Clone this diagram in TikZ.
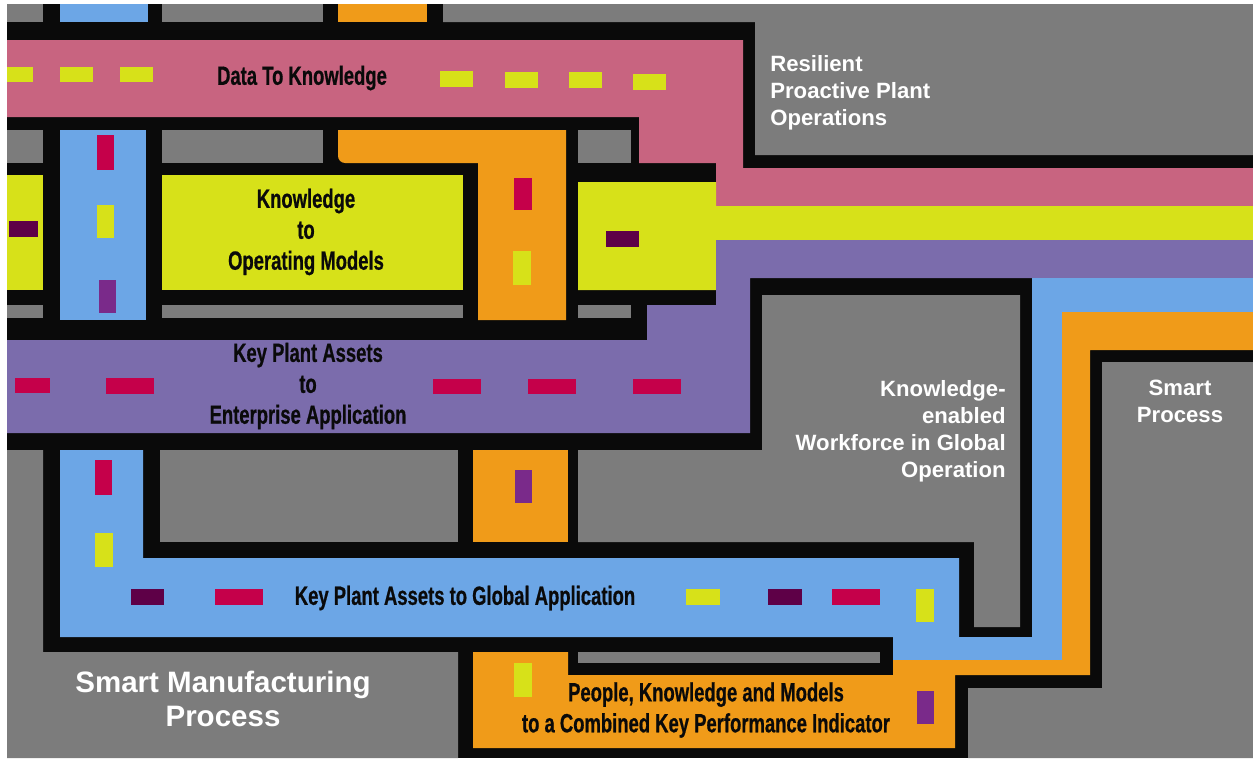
\documentclass[tikz,border=0pt]{standalone}
\usepackage{fontspec}
\setmainfont{Liberation Sans}
\newfontfamily\roadfont[FakeStretch=0.7,FakeBold=0.6]{Liberation Sans}
\usetikzlibrary{positioning}

\definecolor{roadpink}{RGB}{200,100,128}
\definecolor{roadyellow}{RGB}{215,225,25}
\definecolor{roadpurple}{RGB}{123,108,172}
\definecolor{roadblue}{RGB}{108,166,230}
\definecolor{roadorange}{RGB}{240,155,25}
\definecolor{ground}{RGB}{124,124,124}
\definecolor{curb}{RGB}{10,10,10}
\definecolor{markred}{RGB}{197,0,74}
\definecolor{markplum}{RGB}{94,0,71}
\definecolor{markviolet}{RGB}{122,42,138}

\begin{document}
\begin{tikzpicture}[x=0.02cm, y=-0.02cm,
  roadlabel/.style={font=\roadfont\bfseries\fontsize{15}{17.6}\selectfont, text=curb, align=center, inner sep=0pt},
  arealabel/.style={font=\bfseries\fontsize{12.6}{15.3}\selectfont, text=white, inner sep=0pt}]

\useasboundingbox (0,0) rectangle (1253,758);
\fill[white] (0,0) rectangle (1253,758);

% --- Ground: black curbs with grey blocks ---
\fill[curb] (7,4) rectangle (1253,758);
\fill[ground] (7,4) rectangle (43,22);
\fill[ground] (162,4) rectangle (323,22);
\fill[ground] (443,4) -- (1253,4) -- (1253,155) -- (755,155) -- (755,22) -- (443,22) -- cycle;
\fill[ground] (7,130) rectangle (43,163);
\fill[ground] (162,130) rectangle (323,163);
\fill[ground] (578,130) rectangle (631,163);
\fill[ground] (7,305) rectangle (43,318);
\fill[ground] (162,305) rectangle (463,318);
\fill[ground] (578,305) rectangle (631,318);
\fill[ground] (762,295) -- (1020,295) -- (1020,627) -- (974,627) -- (974,542)
  -- (578,542) -- (578,450) -- (762,450) -- cycle;
\fill[ground] (160,450) rectangle (458,542);
\fill[ground] (7,450) -- (43,450) -- (43,652) -- (458,652) -- (458,758) -- (7,758) -- cycle;
\fill[ground] (578,652) rectangle (880,663);
\fill[ground] (1102,362) -- (1253,362) -- (1253,758) -- (968,758) -- (968,688) -- (1102,688) -- cycle;

% --- Roads ---
\fill[roadpink] (7,40) -- (743,40) -- (743,168) -- (1253,168) -- (1253,206) -- (716,206)
  -- (716,163) -- (639,163) -- (639,117) -- (7,117) -- cycle;
\fill[roadyellow] (7,175) rectangle (43,290);
\fill[roadyellow] (162,175) rectangle (463,290);
\fill[roadyellow] (578,182) -- (716,182) -- (716,206) -- (1253,206) -- (1253,240) -- (716,240)
  -- (716,290) -- (578,290) -- cycle;
\fill[roadpurple] (7,340) -- (647,340) -- (647,305) -- (716,305) -- (716,240) -- (1253,240)
  -- (1253,278) -- (750,278) -- (750,433) -- (7,433) -- cycle;
\fill[roadblue] (60,4) rectangle (148,22);
\fill[roadblue] (60,130) rectangle (146,320);
\fill[roadblue] (60,450) -- (143,450) -- (143,558) -- (959,558) -- (959,637) -- (1032,637)
  -- (1032,278) -- (1253,278) -- (1253,312) -- (1062,312) -- (1062,660) -- (893,660)
  -- (893,637) -- (60,637) -- cycle;
\fill[roadorange] (338,4) rectangle (427,22);
\fill[roadorange] (566,130) -- (566,320) -- (478,320) -- (478,163)
  [rounded corners=4] -- (338,163) [sharp corners] -- (338,130) -- cycle;
\fill[roadorange] (473,450) rectangle (568,542);
\fill[roadorange] (473,652) -- (568,652) -- (568,675) -- (893,675) -- (893,660) -- (1062,660)
  -- (1062,312) -- (1253,312) -- (1253,350) -- (1090,350) -- (1090,675) -- (955,675)
  -- (955,748) -- (473,748) -- cycle;

% --- Lane marks ---
\fill[roadyellow] (7,67) rectangle (33,82);
\fill[roadyellow] (60,67) rectangle (93,82);
\fill[roadyellow] (120,67) rectangle (153,82);
\fill[roadyellow] (440,71) rectangle (473,87);
\fill[roadyellow] (505,72) rectangle (538,88);
\fill[roadyellow] (569,72) rectangle (602,88);
\fill[roadyellow] (633,74) rectangle (666,90);
\fill[markred] (97,135) rectangle (114,170);
\fill[roadyellow] (97,205) rectangle (114,238);
\fill[markviolet] (99,280) rectangle (116,313);
\fill[markplum] (9,221) rectangle (38,237);
\fill[markred] (514,178) rectangle (532,210);
\fill[roadyellow] (513,251) rectangle (531,285);
\fill[markplum] (606,231) rectangle (639,247);
\fill[markred] (15,378) rectangle (50,393);
\fill[markred] (106,378) rectangle (154,394);
\fill[markred] (433,379) rectangle (481,394);
\fill[markred] (528,379) rectangle (576,394);
\fill[markred] (633,379) rectangle (681,394);
\fill[markviolet] (515,470) rectangle (532,503);
\fill[markred] (95,460) rectangle (112,495);
\fill[roadyellow] (95,533) rectangle (113,567);
\fill[markplum] (131,589) rectangle (164,605);
\fill[markred] (215,589) rectangle (263,605);
\fill[roadyellow] (686,589) rectangle (720,605);
\fill[markplum] (768,589) rectangle (802,605);
\fill[markred] (832,589) rectangle (880,605);
\fill[roadyellow] (916,589) rectangle (934,622);
\fill[roadyellow] (514,663) rectangle (532,697);
\fill[markviolet] (917,691) rectangle (934,724);

% --- Labels ---
\node[roadlabel] (datatext) at (302,78) {Data To Knowledge};
\node[roadlabel] (modeltext) at (306,232) {Knowledge\\to\\Operating Models};
\node[roadlabel] (enterprisetext) at (308,386) {Key Plant Assets\\to\\Enterprise Application};
\node[roadlabel] (globaltext) at (465,598) {Key Plant Assets to Global Application};
\node[roadlabel] (kpitext) at (706,710) {People, Knowledge and Models\\to a Combined Key Performance Indicator};

\node[arealabel, align=left, anchor=west] (resilient) at (770,93) {Resilient\\Proactive Plant\\Operations};
\node[arealabel, align=right, anchor=east] (workforce) at (1006,431) {Knowledge-\\enabled\\Workforce in Global\\Operation};
\node[arealabel, align=center] (smartproc) at (1180,401) {Smart\\Process};
\node[arealabel, align=center, font=\bfseries\fontsize{16.8}{19.3}\selectfont] (smartmfg) at (223,699) {Smart Manufacturing\\Process};

\end{tikzpicture}
\end{document}
